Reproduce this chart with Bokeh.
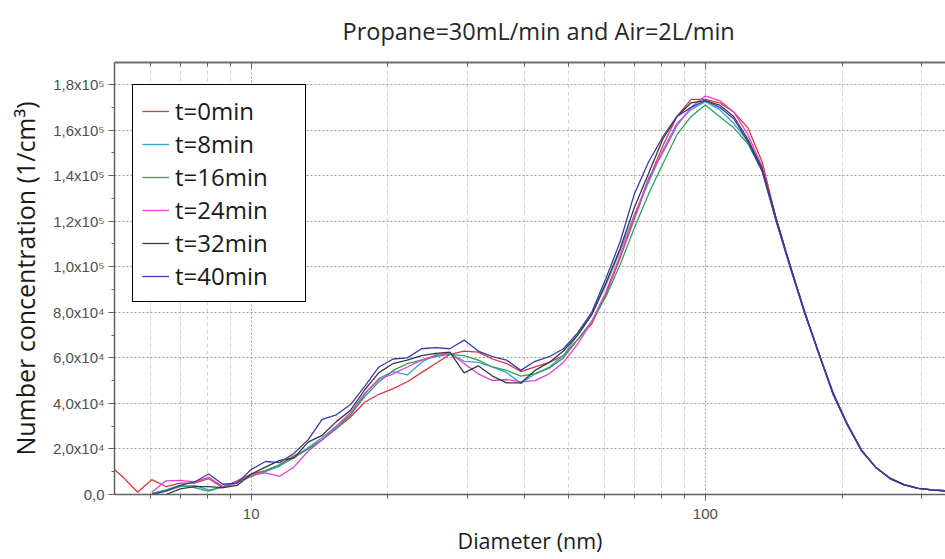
from bokeh.plotting import figure
from bokeh.models import LogAxis, FixedTicker, Range1d
from bokeh.embed import file_html
from bokeh.resources import INLINE

nan = float("nan")

# Diameter (nm), log-spaced channels
diameter = [4.87, 5.23, 5.62, 6.04, 6.49, 6.98, 7.50, 8.06, 8.66, 9.31,
            10.0, 10.75, 11.55, 12.41, 13.34, 14.33, 15.40, 16.55, 17.78, 19.11,
            20.54, 22.07, 23.71, 25.48, 27.38, 29.43, 31.62, 33.98, 36.52, 39.24,
            42.17, 45.32, 48.70, 52.33, 56.23, 60.43, 64.94, 69.78, 74.99, 80.58,
            86.60, 93.06, 100.0, 107.5, 115.5, 124.1, 133.4, 143.3, 154.0, 165.5,
            177.8, 191.1, 205.4, 220.7, 237.1, 254.8, 273.8, 294.3, 316.2, 339.8]

# Number concentration in units of 10^4 1/cm3
t0 = [1.3, 0.75, 0.1, 0.65, 0.35, 0.5, 0.5, 0.7, 0.3, 0.6,
      0.9, 1.05, 1.3, 1.7, 2.0, 2.4, 2.9, 3.4, 4.05, 4.4,
      4.65, 4.95, 5.35, 5.75, 6.15, 6.3, 6.25, 5.95, 5.75, 5.4,
      5.6, 5.8, 6.1, 6.8, 7.5, 8.8, 10.4, 12.1, 13.8, 15.3,
      16.6, 17.35, 17.35, 17.2, 16.8, 16.1, 14.6, 12.1, 10.0, 8.0,
      6.2, 4.45, 3.1, 1.95, 1.2, 0.72, 0.43, 0.27, 0.2, 0.16]
t8 = [nan, nan, nan, 0.0, 0.15, 0.35, 0.4, 0.2, 0.3, 0.5,
      0.8, 1.0, 1.25, 1.65, 2.05, 2.5, 3.0, 3.5, 4.4, 5.1,
      5.4, 5.25, 5.8, 6.15, 6.2, 5.85, 5.8, 5.6, 5.35, 4.88,
      5.3, 5.6, 6.1, 7.0, 7.9, 9.2, 10.7, 12.3, 13.7, 15.1,
      16.3, 16.9, 17.25, 16.9, 16.3, 15.5, 14.3, 12.0, 9.9, 8.0,
      6.2, 4.4, 3.05, 1.95, 1.2, 0.7, 0.42, 0.27, 0.2, 0.15]
t16 = [nan, nan, nan, 0.05, 0.2, 0.4, 0.3, 0.15, 0.35, 0.55,
       0.8, 1.05, 1.3, 1.6, 2.0, 2.4, 2.9, 3.5, 4.3, 4.95,
       5.45, 5.75, 5.9, 6.05, 6.15, 6.1, 5.9, 5.6, 5.45, 5.2,
       5.3, 5.55, 6.0, 6.8, 7.6, 8.7, 10.1, 11.7, 13.2, 14.5,
       15.8, 16.6, 17.1, 16.6, 16.1, 15.4, 14.2, 12.0, 10.0, 8.0,
       6.15, 4.45, 3.1, 1.9, 1.2, 0.72, 0.43, 0.28, 0.2, 0.16]
t24 = [nan, nan, nan, 0.1, 0.6, 0.62, 0.55, 0.75, 0.35, 0.55,
       0.85, 0.95, 0.8, 1.2, 1.9, 2.4, 3.0, 3.6, 4.45, 5.05,
       5.3, 5.6, 5.9, 6.1, 6.2, 5.75, 5.3, 5.0, 5.05, 4.95,
       5.0, 5.3, 5.8, 6.6, 7.6, 8.9, 10.5, 12.2, 13.9, 15.0,
       16.2, 17.0, 17.5, 17.3, 16.8, 15.8, 14.4, 12.1, 10.0, 8.05,
       6.2, 4.5, 3.1, 1.95, 1.2, 0.72, 0.43, 0.27, 0.2, 0.16]
t32 = [nan, nan, nan, nan, 0.0, 0.25, 0.35, 0.35, 0.3, 0.4,
       0.9, 1.2, 1.5, 1.6, 2.3, 2.6, 3.2, 3.7, 4.6, 5.35,
       5.75, 5.9, 6.1, 6.2, 6.25, 5.34, 5.65, 5.2, 4.9, 4.9,
       5.45, 5.8, 6.3, 7.0, 7.9, 9.3, 10.8, 12.6, 14.1, 15.6,
       16.6, 17.2, 17.3, 17.1, 16.6, 15.6, 14.3, 12.1, 10.0, 8.0,
       6.2, 4.45, 3.1, 1.95, 1.2, 0.72, 0.43, 0.27, 0.2, 0.16]
t40 = [nan, nan, nan, 0.0, 0.15, 0.4, 0.55, 0.9, 0.45, 0.5,
       1.1, 1.45, 1.4, 1.8, 2.4, 3.3, 3.5, 3.95, 4.75, 5.6,
       5.95, 6.0, 6.4, 6.45, 6.4, 6.78, 6.3, 6.05, 5.9, 5.45,
       5.85, 6.05, 6.4, 7.1, 8.0, 9.5, 11.1, 13.2, 14.6, 15.7,
       16.6, 17.0, 17.3, 17.0, 16.5, 15.5, 14.2, 12.0, 9.95, 7.95,
       6.2, 4.4, 3.05, 1.95, 1.2, 0.7, 0.42, 0.27, 0.19, 0.15]

series_names = ["t=0min", "t=8min", "t=16min", "t=24min", "t=32min", "t=40min"]
series_values = [t0, t8, t16, t24, t32, t40]
series_colors = ["#d8383a", "#3d9fd0", "#2ea25a", "#e040d8", "#3a3a3a", "#3a3aa8"]

y_ticks = [0, 2, 4, 6, 8, 10, 12, 14, 16, 18]
y_labels = ["0,0", "2,0x10\u2074", "4,0x10\u2074", "6,0x10\u2074", "8,0x10\u2074",
            "1,0x10\u2075", "1,2x10\u2075", "1,4x10\u2075", "1,6x10\u2075", "1,8x10\u2075"]
y_minor = [1, 3, 5, 7, 9, 11, 13, 15, 17]
x_ticks = [10, 100]
x_labels = ["10", "100"]
x_minor = [6, 7, 8, 9, 20, 30, 40, 50, 60, 70, 80, 90, 200, 300]

p = figure(width=945, height=559, x_axis_type="log",
           x_range=Range1d(5, 338), y_range=Range1d(0, 18.97),
           output_backend="svg", toolbar_location=None,
           min_border_left=114, min_border_right=0, min_border_top=0, min_border_bottom=65,
           title="Propane=30mL/min and Air=2L/min")
p.outline_line_color = None
p.background_fill_color = "white"

p.title.align = "left"
p.title.vertical_align = "top"
p.title.offset = 228
p.title.standoff = 28
p.title.text_font = "Open Sans"
p.title.text_font_size = "23.5px"
p.title.text_font_style = "normal"
p.title.text_color = "#262626"

for name, vals, col in zip(series_names, series_values, series_colors):
    p.line(diameter, vals, line_color=col, line_width=1.3, legend_label=name)

tick_font = "Liberation Sans"
# y axis
ya = p.yaxis[0]
ya.ticker = FixedTicker(ticks=y_ticks, minor_ticks=y_minor)
ya.major_label_overrides = {t: l for t, l in zip(y_ticks, y_labels)}
ya.major_label_text_font = tick_font
ya.major_label_text_font_size = "15px"
ya.major_label_text_color = "#505050"
ya.major_tick_out = 6
ya.major_tick_in = 0
ya.minor_tick_out = 3
ya.minor_tick_in = 0
ya.major_label_standoff = 4
ya.axis_line_color = "#606060"
ya.axis_line_width = 1.5
ya.major_tick_line_color = "#606060"
ya.minor_tick_line_color = "#606060"
ya.axis_label = "Number concentration (1/cm\u00b3)"
ya.axis_label_text_font = "Open Sans"
ya.axis_label_text_font_size = "25px"
ya.axis_label_text_font_style = "normal"
ya.axis_label_text_color = "#1a1a1a"
ya.axis_label_standoff = 8

# x axis
xa = p.xaxis[0]
xa.ticker = FixedTicker(ticks=x_ticks, minor_ticks=x_minor)
xa.major_label_overrides = {t: l for t, l in zip(x_ticks, x_labels)}
xa.major_label_text_font = tick_font
xa.major_label_text_font_size = "15px"
xa.major_label_text_color = "#505050"
xa.major_tick_out = 6
xa.major_tick_in = 0
xa.minor_tick_out = 4
xa.minor_tick_in = 0
xa.major_label_standoff = 8
xa.axis_line_color = "#606060"
xa.axis_line_width = 1.5
xa.major_tick_line_color = "#606060"
xa.minor_tick_line_color = "#606060"
xa.axis_label = "Diameter (nm)"
xa.axis_label_text_font = "Open Sans"
xa.axis_label_text_font_size = "21.5px"
xa.axis_label_text_font_style = "normal"
xa.axis_label_text_color = "#1a1a1a"
xa.axis_label_standoff = 4

# top frame axis with inward ticks (no labels)
top = LogAxis(ticker=FixedTicker(ticks=x_ticks, minor_ticks=x_minor),
              major_label_text_font_size="1px", major_label_text_alpha=0,
              major_label_standoff=5,
              major_tick_in=6, major_tick_out=0, minor_tick_in=4, minor_tick_out=0,
              axis_line_color="#707070", axis_line_width=2,
              major_tick_line_color="#606060", minor_tick_line_color="#606060")
p.add_layout(top, "above")

# grids
p.ygrid.ticker = FixedTicker(ticks=y_ticks)
p.ygrid.grid_line_color = "#9a9a9a"
p.ygrid.grid_line_dash = "2 2"
p.ygrid.grid_line_width = 1
p.xgrid.ticker = FixedTicker(ticks=x_ticks, minor_ticks=x_minor)
p.xgrid.grid_line_color = "#9a9a9a"
p.xgrid.grid_line_dash = "2 2"
p.xgrid.minor_grid_line_color = "#d4d4d4"
p.xgrid.minor_grid_line_dash = "4 3"

lg = p.legend[0]
lg.location = (18, 192)
lg.border_line_color = "black"
lg.border_line_width = 1
lg.border_line_alpha = 1
lg.background_fill_alpha = 1
lg.label_text_font = "Open Sans"
lg.label_text_font_size = "24px"
lg.label_text_color = "#1a1a1a"
lg.glyph_width = 27
lg.glyph_height = 20
lg.label_standoff = 6
lg.padding = 9
lg.spacing = 0
lg.margin = 0
lg.label_width = 121

open("out.html", "w").write(file_html(p, INLINE))
